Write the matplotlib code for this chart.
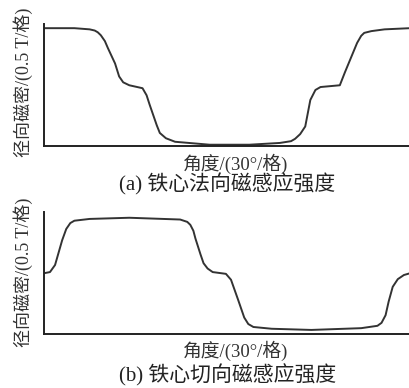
import matplotlib.pyplot as plt
import numpy as np

plt.rcParams['font.family'] = ['Liberation Serif', 'Noto Sans CJK SC']

# (a) normal component: angle (deg), flux density (T)
angle_a = [0, 30, 45, 50, 53, 56, 60, 63, 70, 74, 78, 84, 97, 101, 104, 111, 114, 120, 129, 163, 202, 232, 243, 247, 252, 257, 262, 267, 272, 291, 296, 308, 312, 315, 322, 335, 360]
b_a = [2.00, 2.00, 1.98, 1.96, 1.93, 1.88, 1.78, 1.66, 1.40, 1.18, 1.08, 1.03, 0.98, 0.86, 0.70, 0.35, 0.22, 0.13, 0.07, 0.02, 0.02, 0.05, 0.08, 0.12, 0.20, 0.33, 0.78, 0.95, 1.00, 1.03, 1.25, 1.75, 1.87, 1.92, 1.95, 1.98, 2.00]

# (b) tangential component
angle_b = [0, 6, 11, 18, 22, 26, 30, 45, 84, 134, 141, 144, 147, 149, 154, 157, 161, 166, 179, 184, 191, 197, 201, 206, 224, 263, 312, 328, 332, 336, 339, 343, 348, 354, 360]
b_b = [1.03, 1.05, 1.17, 1.59, 1.78, 1.88, 1.92, 1.95, 1.97, 1.94, 1.90, 1.85, 1.75, 1.62, 1.35, 1.20, 1.11, 1.05, 1.02, 0.92, 0.58, 0.28, 0.17, 0.12, 0.09, 0.07, 0.10, 0.14, 0.19, 0.32, 0.55, 0.80, 0.93, 1.00, 1.03]

fig = plt.figure(figsize=(4.1, 3.88), dpi=100)

panels = [
    (angle_a, b_a, [0.107, 0.624, 0.893, 0.314], '(a) 铁心法向磁感应强度', 0.789, 0.578, 0.526),
    (angle_b, b_b, [0.107, 0.139, 0.893, 0.315], '(b) 铁心切向磁感应强度', 0.299, 0.095, 0.033),
]

for ang, b, rect, caption, yl_y, xl_y, cap_y in panels:
    ax = fig.add_axes(rect)
    ax.plot(ang, b, color='#333333', linewidth=1.4)
    ax.set_xlim(0, 360)
    ax.set_ylim(0, 2.07)
    ax.set_xticks([])
    ax.set_yticks([])
    for side in ['top', 'right']:
        ax.spines[side].set_visible(False)
    for side in ['left', 'bottom']:
        ax.spines[side].set_linewidth(1.4)
        ax.spines[side].set_color('#222222')
    fig.text(0.056, yl_y, '径向磁密/(0.5 T/格)', fontsize=13, rotation=90,
             ha='center', va='center', color='#333333')
    fig.text(0.575, xl_y, '角度/(30°/格)', fontsize=13.5, ha='center', va='center', color='#333333')
    fig.text(0.555, cap_y, caption, fontsize=15, ha='center', va='center', color='#222222')

fig.savefig('out.png', dpi=100)
